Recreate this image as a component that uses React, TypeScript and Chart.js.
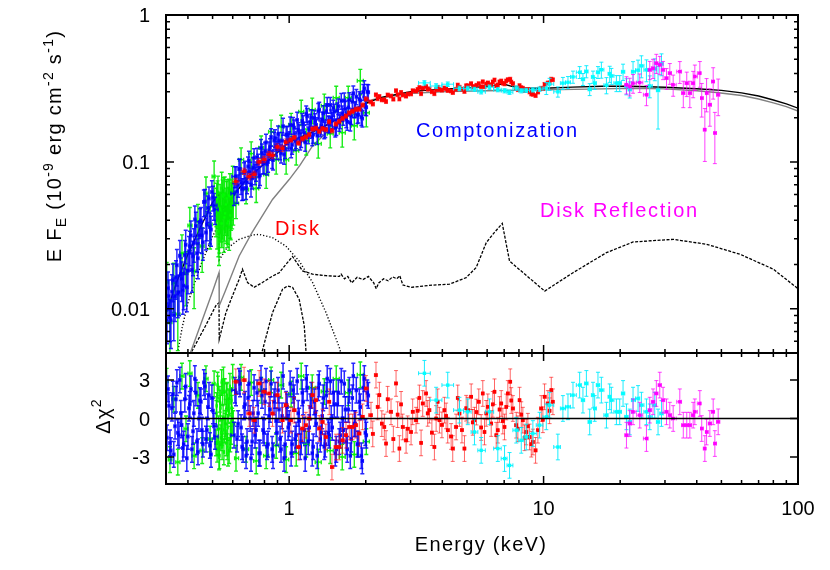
import React, { useEffect, useRef } from "react";
import { Chart, registerables } from "chart.js";

Chart.register(...registerables);

const FONT = '"Liberation Sans", Arial, Helvetica, sans-serif';

// ---------------- axis ranges and ticks ----------------
const X_MIN = 0.328;
const X_MAX = 100;
const Y_MIN = 0.005;
const Y_MAX = 1;
const R_MIN = -5.1;
const R_MAX = 5.1;

const xMajorTicks = [1, 10, 100];
const xTickLabels = ["1", "10", "100"];
const xMinorTicks = [0.4, 0.5, 0.6, 0.7, 0.8, 0.9, 2, 3, 4, 5, 6, 7, 8, 9, 20, 30, 40, 50, 60, 70, 80, 90];
const yMajorTicks = [1, 0.1, 0.01];
const yTickLabels = ["1", "0.1", "0.01"];
const yMinorTicks = [0.006, 0.007, 0.008, 0.009, 0.02, 0.03, 0.04, 0.05, 0.06, 0.07, 0.08, 0.09, 0.2, 0.3, 0.4, 0.5, 0.6, 0.7, 0.8, 0.9];
const resTicks = [3, 0, -3];
const resTickLabels = ["3", "0", "-3"];

// ---------------- data: blue (two interleaved groups of bins) ----------------
const blueE = [
  0.331, 0.337, 0.343, 0.349, 0.356, 0.362, 0.369, 0.375, 0.382, 0.389, 0.396, 0.404, 0.411, 0.419, 0.426, 0.434, 0.442, 0.45, 0.458, 0.467, 0.475, 0.484, 0.493, 0.502, 0.511,
  0.607, 0.618, 0.63, 0.641, 0.653, 0.665, 0.677, 0.689, 0.702, 0.715, 0.728, 0.741, 0.755, 0.768, 0.782, 0.797, 0.811, 0.826, 0.841, 0.857,
  0.872, 0.888, 0.904, 0.921, 0.938, 0.955, 0.973, 0.991, 1.009, 1.027, 1.046, 1.065, 1.085, 1.105, 1.125, 1.146, 1.167, 1.188, 1.21, 1.232,
  1.254, 1.277, 1.301, 1.325, 1.349, 1.374, 1.399, 1.424, 1.45, 1.477, 1.504, 1.532, 1.56, 1.588, 1.617, 1.647, 1.677, 1.708, 1.739, 1.771,
  1.803, 1.836, 1.87, 1.904, 1.939, 1.974, 2.01, 2.047,
];
const blueF = [
  0.00837, 0.01221, 0.00837, 0.01565, 0.0122, 0.0198, 0.01298, 0.0172, 0.01339, 0.02314, 0.01403, 0.0246, 0.0316, 0.0228, 0.0406, 0.02387, 0.0316, 0.04, 0.02837, 0.0538, 0.0375, 0.0564, 0.0347, 0.0573, 0.0475,
  0.0609, 0.0797, 0.0694, 0.0894, 0.0657, 0.0846, 0.0665, 0.0931, 0.0856, 0.0775, 0.1069, 0.0867, 0.0976, 0.0811, 0.1155, 0.0981, 0.1353, 0.0999, 0.1256, 0.1052,
  0.1399, 0.1278, 0.1544, 0.1206, 0.1393, 0.1123, 0.1537, 0.1382, 0.178, 0.1306, 0.1707, 0.1419, 0.1639, 0.1384, 0.1895, 0.1576, 0.2128, 0.153, 0.1872, 0.148,
  0.199, 0.178, 0.2213, 0.1691, 0.1937, 0.1649, 0.221, 0.1822, 0.2441, 0.1922, 0.2203, 0.1733, 0.2395, 0.1922, 0.2141, 0.2619, 0.1946, 0.2344, 0.1851, 0.257,
  0.2265, 0.2779, 0.2098, 0.2615, 0.1977, 0.3161, 0.2352, 0.298,
];
const blueErr = [
  0.0026, 0.0035, 0.003, 0.0045, 0.004, 0.0055, 0.004, 0.005, 0.0042, 0.006, 0.0045, 0.0065, 0.008, 0.006, 0.0095, 0.006, 0.0075, 0.009, 0.007, 0.011, 0.0085, 0.011, 0.008, 0.011, 0.01,
  0.0104, 0.013, 0.012, 0.015, 0.011, 0.014, 0.011, 0.015, 0.014, 0.012, 0.016, 0.013, 0.015, 0.012, 0.017, 0.015, 0.019, 0.015, 0.018, 0.015,
  0.019, 0.018, 0.021, 0.017, 0.019, 0.016, 0.021, 0.019, 0.024, 0.018, 0.022, 0.019, 0.021, 0.018, 0.024, 0.02, 0.027, 0.02, 0.024, 0.019,
  0.025, 0.022, 0.028, 0.021, 0.024, 0.021, 0.027, 0.023, 0.03, 0.024, 0.027, 0.022, 0.029, 0.024, 0.026, 0.032, 0.024, 0.028, 0.023, 0.031,
  0.027, 0.033, 0.026, 0.031, 0.025, 0.04, 0.029, 0.037,
];
const blueRes = [
  -1.5, 1.0, -2.5, 1.9, -0.6, 2.8, -1.3, 0.4, -2.3, 1.5, -3.1, 0.8, 2.3, -1.0, 3.1, -1.8, 0.0, 1.3, -2.0, 2.5, -0.9, 1.8, -2.8, 0.6, -1.4,
  -1.3, 2.0, -0.4, 2.7, -2.2, 0.9, -2.9, 1.6, 0.0, -1.8, 2.4, -0.9, 0.4, -2.7, 1.8, -1.1, 2.9, -2.0, 0.7, -2.4,
  1.3, -0.2, 2.2, -1.6, 0.2, -3.1, 1.1, -0.7, 2.7, -2.0, 1.6, -1.3, 0.4, -2.2, 2.0, -0.9, 3.1, -1.8, 0.9, -2.7,
  1.3, -0.4, 2.4, -1.6, 0.2, -2.2, 1.8, -1.1, 2.9, -0.7, 1.1, -2.4, 2.0, -1.3, 0.0, 2.7, -1.8, 0.7, -2.9, 1.6,
  -0.4, 2.2, -2.0, 0.9, -3.3, 3.1, -1.3, 1.8,
];

const blue2E = [
  0.334, 0.34, 0.346, 0.352, 0.359, 0.365, 0.372, 0.378, 0.385, 0.392, 0.4, 0.407, 0.415, 0.422, 0.43, 0.438, 0.446, 0.454, 0.462, 0.471, 0.479, 0.488, 0.497, 0.506,
  0.612, 0.624, 0.635, 0.647, 0.659, 0.671, 0.683, 0.695, 0.708, 0.721, 0.734, 0.748, 0.761, 0.775, 0.789, 0.804, 0.818, 0.833, 0.849, 0.864,
  0.88, 0.896, 0.912, 0.929, 0.946, 0.964, 0.982, 1.0, 1.018, 1.036, 1.055, 1.075, 1.095, 1.115, 1.135, 1.156, 1.177, 1.199, 1.221, 1.243,
  1.265, 1.289, 1.313, 1.337, 1.361, 1.386, 1.411, 1.437, 1.463, 1.49, 1.518, 1.546, 1.574, 1.602, 1.632, 1.662, 1.692, 1.723, 1.755, 1.787,
  1.819, 1.853, 1.887, 1.921, 1.956, 1.992, 2.028,
];
const blue2F = [
  0.01381, 0.00877, 0.01308, 0.00905, 0.0164, 0.0127, 0.02296, 0.01602, 0.01436, 0.02729, 0.01817, 0.02665, 0.01845, 0.02793, 0.03663, 0.02204, 0.03905, 0.0316, 0.05337, 0.03312, 0.04862, 0.03606, 0.06241, 0.0505,
  0.0796, 0.0632, 0.0893, 0.072, 0.0658, 0.087, 0.0728, 0.102, 0.0697, 0.0917, 0.083, 0.1076, 0.0795, 0.1243, 0.0976, 0.1189, 0.0964, 0.1195, 0.1478, 0.103,
  0.1457, 0.121, 0.1397, 0.1144, 0.175, 0.1223, 0.1527, 0.1417, 0.1235, 0.1774, 0.1384, 0.1928, 0.1577, 0.1441, 0.1825, 0.136, 0.2047, 0.1667, 0.2008, 0.1537,
  0.1883, 0.1511, 0.2265, 0.1755, 0.2141, 0.1686, 0.2441, 0.1805, 0.2005, 0.2333, 0.1699, 0.224, 0.1848, 0.2603, 0.2027, 0.2294, 0.1869, 0.2636, 0.2049, 0.2931,
  0.2283, 0.2082, 0.2677, 0.2021, 0.2992, 0.237, 0.2997,
];
const blue2Err = [
  0.004, 0.0028, 0.004, 0.003, 0.0048, 0.004, 0.0062, 0.0048, 0.0045, 0.007, 0.0055, 0.007, 0.0055, 0.0072, 0.0088, 0.006, 0.009, 0.0078, 0.011, 0.008, 0.01, 0.0085, 0.012, 0.0105,
  0.013, 0.011, 0.015, 0.012, 0.011, 0.014, 0.012, 0.016, 0.012, 0.015, 0.013, 0.016, 0.013, 0.018, 0.015, 0.017, 0.015, 0.017, 0.02, 0.015,
  0.02, 0.017, 0.019, 0.016, 0.023, 0.017, 0.021, 0.019, 0.017, 0.023, 0.019, 0.025, 0.021, 0.019, 0.024, 0.018, 0.026, 0.022, 0.026, 0.02,
  0.024, 0.02, 0.028, 0.023, 0.027, 0.022, 0.03, 0.023, 0.025, 0.029, 0.022, 0.028, 0.023, 0.032, 0.025, 0.028, 0.023, 0.032, 0.025, 0.036,
  0.028, 0.026, 0.033, 0.025, 0.037, 0.029, 0.037,
];
const blue2Res = [
  2.3, -1.9, 0.8, -2.8, 1.5, -1.1, 3.0, -0.5, -2.0, 2.5, -1.4, 1.1, -2.4, 0.4, 2.0, -2.6, 1.4, -0.9, 2.8, -1.6, 0.9, -2.1, 1.6, -0.6,
  2.2, -1.6, 2.9, -0.7, -2.4, 1.1, -1.8, 2.7, -3.1, 0.4, -1.3, 2.0, -2.7, 3.1, -0.9, 1.3, -2.2, 0.2, 2.7, -2.9,
  1.8, -1.1, 0.7, -2.4, 3.3, -2.0, 0.9, -0.4, -2.7, 2.2, -1.6, 2.9, -0.2, -1.8, 1.3, -3.1, 2.4, -0.7, 1.8, -2.2,
  0.4, -2.9, 2.7, -1.1, 1.6, -2.0, 3.1, -1.3, 0.0, 2.0, -2.7, 1.1, -1.8, 2.9, -0.9, 0.7, -2.4, 2.2, -1.6, 3.3,
  -0.4, -2.0, 1.3, -2.9, 2.4, -1.1, 2.0,
];

// ---------------- data: green ----------------
const greenE = [
  0.33, 0.34, 0.352, 0.365, 0.379, 0.393, 0.407, 0.423, 0.438, 0.455, 0.471, 0.489, 0.507,
  0.516, 0.519, 0.523, 0.527, 0.53, 0.534, 0.537, 0.541, 0.545, 0.548, 0.552, 0.556, 0.56, 0.564, 0.568, 0.571, 0.575, 0.579, 0.583, 0.587, 0.591, 0.595, 0.6, 0.603,
  0.618, 0.647, 0.677, 0.709, 0.742, 0.776, 0.812, 0.849, 0.889, 0.93, 0.973, 1.018, 1.066, 1.115, 1.167, 1.232, 1.301, 1.374, 1.45, 1.531, 1.617, 1.707, 1.803, 1.904, 2.01,
];
const greenF = [
  0.01517, 0.00811, 0.01493, 0.00919, 0.02387, 0.01747, 0.0369, 0.01803, 0.0394, 0.0267, 0.0609, 0.0375, 0.0795,
  0.0439, 0.0555, 0.0573, 0.0336, 0.0297, 0.0482, 0.0468, 0.0381, 0.0381, 0.0582, 0.06, 0.0419, 0.0446, 0.0513, 0.0564, 0.0381, 0.0394, 0.0591, 0.0582, 0.0432, 0.0482, 0.0591, 0.0723, 0.0521,
  0.0521, 0.1036, 0.0649, 0.1139, 0.0659, 0.125, 0.082, 0.1606, 0.1036, 0.1736, 0.1036, 0.1791, 0.1193, 0.2195, 0.1395, 0.2265, 0.1331, 0.2411, 0.1556, 0.2732, 0.1581, 0.2732, 0.1763, 0.3564, 0.2161,
];
const greenErr = [
  0.0055, 0.0035, 0.0055, 0.004, 0.008, 0.007, 0.012, 0.008, 0.012, 0.009, 0.018, 0.012, 0.022,
  0.013, 0.016, 0.017, 0.011, 0.01, 0.014, 0.014, 0.012, 0.012, 0.017, 0.018, 0.013, 0.013, 0.015, 0.017, 0.012, 0.012, 0.017, 0.017, 0.013, 0.014, 0.017, 0.021, 0.015,
  0.011, 0.021, 0.013, 0.023, 0.013, 0.025, 0.016, 0.032, 0.021, 0.034, 0.021, 0.035, 0.024, 0.043, 0.028, 0.045, 0.027, 0.048, 0.031, 0.054, 0.032, 0.054, 0.035, 0.07, 0.043,
];
const greenRes = [
  2.9, -3.2, 1.5, -3.4, 3.3, -0.8, 3.5, -2.9, 1.8, -2.5, 3.1, -1.6, 2.7,
  -1.9, 1.0, 2.6, -1.8, -3.0, 1.5, 0.8, -1.1, -2.2, 2.0, 3.0, -0.9, -0.6, 0.5, 1.7, -2.2, -2.7, 1.3, 1.2, -1.6, -1.0, 0.8, 3.2, -0.4,
  -3.1, 3.2, -2.4, 2.8, -3.3, 2.2, -2.9, 3.0, -2.1, 2.6, -3.2, 1.9, -2.7, 3.3, -2.0, 2.4, -3.4, 2.1, -2.5, 3.1, -3.0, 2.0, -2.8, 3.4, -1.8,
];
const green2E = [0.5175, 0.521, 0.525, 0.5285, 0.532, 0.5355, 0.539, 0.543, 0.5465, 0.55, 0.554, 0.558, 0.562, 0.566, 0.5695, 0.573, 0.577, 0.581, 0.585, 0.589, 0.593, 0.597];
const green2F = [0.0512, 0.0365, 0.062, 0.0452, 0.034, 0.0541, 0.0405, 0.066, 0.0428, 0.0495, 0.0352, 0.061, 0.047, 0.0398, 0.0585, 0.0445, 0.052, 0.036, 0.064, 0.0415, 0.056, 0.049];
const green2Err = [0.015, 0.011, 0.018, 0.013, 0.01, 0.016, 0.012, 0.019, 0.013, 0.015, 0.011, 0.018, 0.014, 0.012, 0.017, 0.013, 0.015, 0.011, 0.019, 0.012, 0.016, 0.014];
const green2Res = [0.4, -2.4, 2.3, -0.8, -2.9, 1.2, -1.5, 2.8, -1.1, 0.1, -2.6, 2.1, -0.4, -1.9, 1.8, -0.7, 0.6, -2.5, 2.5, -1.3, 1.4, -0.2];

// ---------------- data: red ----------------
const redE = [
  0.617, 0.665, 0.696, 0.728, 0.762, 0.797, 0.834, 0.86, 0.899, 0.941, 0.97,
  1.016, 1.046, 1.088, 1.128, 1.163, 1.199, 1.235, 1.274, 1.313, 1.352, 1.394, 1.437, 1.473, 1.527, 1.574, 1.621, 1.672, 1.723, 1.775, 1.83, 1.887, 1.944, 2.004,
  2.097, 2.131, 2.194, 2.227, 2.262, 2.313, 2.366, 2.403, 2.438, 2.514,
  2.567, 2.631, 2.669, 2.711, 2.753, 2.793, 2.881, 2.923, 3.014, 3.058,
  3.153, 3.199, 3.25, 3.3, 3.349, 3.453, 3.504, 3.558, 3.639, 3.723,
  3.781, 3.836, 3.896, 3.985, 4.076, 4.139, 4.2, 4.331, 4.395, 4.532,
  4.598, 4.67, 4.777, 4.887, 4.963, 5.035, 5.193, 5.269, 5.35, 5.448,
  5.563, 5.685, 5.768, 5.858, 5.949, 6.036, 6.225, 6.316, 6.414, 6.514,
  6.609, 6.711, 6.816, 6.916, 7.023, 7.131, 7.235, 7.395, 7.462, 7.572,
  7.809, 7.923, 8.045, 8.17, 8.29, 8.418, 8.549, 8.675, 8.809, 8.946,
  9.077, 9.302, 9.497, 9.793, 9.936, 10.09, 10.4, 10.56, 10.72, 10.88,
];
const redF = [
  0.0736, 0.0863, 0.0795, 0.0823, 0.1, 0.1039, 0.1124, 0.1107, 0.1264, 0.1237, 0.1363,
  0.141, 0.1464, 0.1343, 0.1437, 0.1478, 0.1532, 0.1673, 0.1694, 0.1614, 0.1683, 0.1659, 0.1875, 0.1629, 0.1811, 0.1889, 0.1977, 0.2053, 0.2155, 0.2213, 0.2283, 0.2289, 0.2438, 0.2677,
  0.2558, 0.2476, 0.2863, 0.269, 0.2788, 0.2644, 0.2648, 0.2575, 0.2858, 0.281,
  0.2673, 0.3054, 0.2867, 0.268, 0.2973, 0.2853, 0.2801, 0.2894, 0.29, 0.3054,
  0.3034, 0.3117, 0.3209, 0.2912, 0.3175, 0.3255, 0.3122, 0.3146, 0.3002, 0.2912,
  0.3107, 0.3224, 0.3107, 0.3078, 0.3188, 0.3146, 0.3063, 0.3034, 0.2964, 0.3122,
  0.3338, 0.3229, 0.3131, 0.3016, 0.3301, 0.3301, 0.3411, 0.3239, 0.3258, 0.3328,
  0.3411, 0.3248, 0.3514, 0.3245, 0.339, 0.3454, 0.3359, 0.3509, 0.3614, 0.3296,
  0.3343, 0.3509, 0.3559, 0.3433, 0.3396, 0.3559, 0.3631, 0.366, 0.3498, 0.3416,
  0.3185, 0.3102, 0.3307, 0.3205, 0.3174, 0.3059, 0.3102, 0.3113, 0.2992, 0.29,
  0.2885, 0.2828, 0.2986, 0.3174, 0.3155, 0.3374, 0.3449, 0.3449, 0.366, 0.3625,
];
const redErr = [
  0.0037, 0.0043, 0.004, 0.0041, 0.005, 0.0052, 0.0056, 0.0055, 0.0063, 0.0062, 0.0068,
  0.0049, 0.0051, 0.0047, 0.005, 0.0052, 0.0054, 0.0059, 0.0059, 0.0056, 0.0059, 0.0058, 0.0066, 0.0057, 0.0063, 0.0066, 0.0069, 0.0072, 0.0075, 0.0077, 0.008, 0.008, 0.0085, 0.0094,
  0.008, 0.0078, 0.0088, 0.0082, 0.0085, 0.0081, 0.0081, 0.0079, 0.0087, 0.0086,
  0.0082, 0.0092, 0.0087, 0.0082, 0.009, 0.0087, 0.0085, 0.0088, 0.0088, 0.0092,
  0.0091, 0.0094, 0.0096, 0.0088, 0.0095, 0.0098, 0.0094, 0.0095, 0.009, 0.0088,
  0.0094, 0.0097, 0.0094, 0.0093, 0.0096, 0.0095, 0.0092, 0.0091, 0.0089, 0.0094,
  0.01, 0.0097, 0.0094, 0.0091, 0.0099, 0.0099, 0.0102, 0.0097, 0.0098, 0.01,
  0.0102, 0.0097, 0.0105, 0.0097, 0.0102, 0.0104, 0.0101, 0.0105, 0.0108, 0.0099,
  0.01, 0.0105, 0.0107, 0.0103, 0.0102, 0.0107, 0.0109, 0.011, 0.0105, 0.0102,
  0.0096, 0.0093, 0.0099, 0.0096, 0.0095, 0.0092, 0.0093, 0.0093, 0.009, 0.0087,
  0.0087, 0.0085, 0.009, 0.0095, 0.0095, 0.0101, 0.0103, 0.0103, 0.011, 0.0109,
];
const redRes = [
  2.86, 2.99, 0.39, -0.13, 2.73, 2.08, 1.95, 0.39, 1.82, -0.13, 1.04,
  -0.13, 0.65, -2.22, -0.78, -0.52, 0.0, 1.82, 1.43, -0.78, -0.27, -1.44, 1.3, -3.78, -2.22, -2.22, -1.7, -1.3, -0.66, -0.66, -0.52, -1.17, 0.13, 2.34,
  0.26, -1.2, 3.38, 0.9, 1.82, -0.4, -0.66, -1.95, 1.5, 0.52,
  -1.6, 2.73, 0.3, -2.34, 1.1, -0.66, -1.7, -0.8, -1.05, 0.52,
  -0.13, 0.6, 1.6, -1.9, 1.17, 1.95, 0.4, 0.65, -1.1, -2.22,
  0.0, 1.3, -0.13, -0.5, 0.65, 0.2, -0.91, -1.4, -2.34, -0.66,
  1.6, 0.39, -0.9, -2.34, 0.8, 0.65, 1.69, -0.3, -0.13, 0.5,
  1.3, -0.7, 1.95, -1.05, 0.4, 0.91, -0.39, 1.1, 2.08, -1.3,
  -0.91, 0.7, 1.17, -0.2, -0.66, 0.9, 1.95, 2.86, 1.4, 0.78,
  -0.52, -0.8, 1.43, 0.3, -0.13, -1.5, -1.05, -0.6, -1.44, -2.0,
  -1.83, -2.48, -0.91, 0.78, -0.1, 1.69, 1.17, 0.6, 2.21, 1.3,
];

// ---------------- data: cyan ----------------
const cyanE = [
  3.401, 3.781, 4.2, 4.67, 5.035, 5.35, 5.685, 6.13, 6.609, 7.023,
  7.348, 7.809, 8.17, 8.549, 9.077, 9.645, 10.25, 10.56, 11.38, 11.91,
  12.47, 13.05, 13.86, 14.28, 14.73, 15.18, 15.64, 15.88, 16.36, 16.87,
  17.66, 18.19, 18.47, 19.33, 19.92, 20.53, 21.17, 21.81, 22.47, 23.51,
  24.24, 25.37, 26.14, 27.35, 28.18, 29.07,
];
const cyanF = [
  0.345, 0.3286, 0.338, 0.317, 0.3165, 0.312, 0.3, 0.3224, 0.31, 0.305,
  0.298, 0.318, 0.305, 0.307, 0.309, 0.313, 0.3174, 0.3385, 0.3, 0.3438,
  0.3481, 0.3789, 0.4075, 0.3654, 0.4126, 0.3117, 0.3789, 0.3438, 0.4075, 0.4243,
  0.3327, 0.3977, 0.3849, 0.3438, 0.3438, 0.4106, 0.3271, 0.3112, 0.4113, 0.421,
  0.4505, 0.423, 0.3291, 0.4297, 0.3073, 0.4648,
];
const cyanErr = [
  0.012, 0.012, 0.012, 0.011, 0.011, 0.01, 0.01, 0.011, 0.01, 0.01,
  0.01, 0.011, 0.01, 0.01, 0.01, 0.011, 0.03, 0.032, 0.024, 0.032,
  0.033, 0.036, 0.038, 0.034, 0.039, 0.029, 0.036, 0.032, 0.038, 0.053,
  0.042, 0.05, 0.048, 0.043, 0.043, 0.052, 0.041, 0.039, 0.07, 0.072,
  0.077, 0.072, 0.056, 0.073, 0.14, 0.079,
];
const cyanRes = [
  3.52, 1.43, 2.6, 0.65, 0.52, -1.05, -2.48, 0.52, -2.34, -3.12,
  -3.65, -0.91, -1.7, -1.44, -1.17, -0.52, 0.13, 1.04, -2.22, 0.78,
  0.91, 1.82, 2.6, 1.43, 2.73, -0.27, 1.82, 0.78, 2.6, 2.21,
  0.26, 1.69, 1.43, 0.52, 0.52, 1.95, 0.13, -0.27, 1.43, 1.56,
  1.04, 0.52, 0.13, 1.04, -0.27, 0.39,
];

// ---------------- data: magenta ----------------
const magentaE = [
  21.17, 21.81, 22.47, 23.88, 25.37, 26.14, 26.93, 27.75, 28.62, 29.49,
  30.42, 31.34, 32.31, 34.31, 35.41, 36.54, 37.57, 38.72, 39.31, 41.13,
  41.84, 43.04, 43.72, 45.03, 46.41, 47.12, 48.56,
];
const magentaF = [
  0.3348, 0.326, 0.3433, 0.3466, 0.2863, 0.423, 0.4342, 0.4699, 0.4576, 0.423,
  0.3718, 0.4021, 0.3348, 0.4119, 0.294, 0.3433, 0.294, 0.3433, 0.3812, 0.4021,
  0.2719, 0.1657, 0.294, 0.2449, 0.3525, 0.1573, 0.2863,
];
const magentaErr = [
  0.045, 0.045, 0.05, 0.05, 0.045, 0.06, 0.065, 0.07, 0.065, 0.06,
  0.06, 0.065, 0.055, 0.07, 0.06, 0.065, 0.06, 0.07, 0.075, 0.08,
  0.07, 0.065, 0.075, 0.07, 0.085, 0.06, 0.08,
];
const magentaRes = [
  -1.3, -0.39, 0.52, 0.26, -1.56, 0.65, 1.3, 1.95, 2.6, 1.43,
  0.52, 0.26, 0.0, 1.3, -0.52, -0.52, -0.52, 0.26, 0.52, 1.17,
  -0.78, -2.34, -1.05, -0.39, 0.52, -1.95, -0.26,
];
const RES_ERR = 1; // residuals are in units of sigma

// ---------------- model curves ----------------
const totalE = [0.33, 0.36, 0.4, 0.45, 0.5, 0.53, 0.531, 0.58, 0.62, 0.7, 0.8, 0.9, 1.0, 1.1, 1.2, 1.4, 1.6, 1.8, 2.0, 2.3, 2.7, 3.0, 3.5, 4.0, 5.0, 6.0, 6.5, 6.9, 7.5, 8.5, 10, 13, 17, 22, 30, 40, 50, 60, 70, 80, 90, 100];
const totalF = [0.0095, 0.015, 0.0235, 0.0365, 0.053, 0.06, 0.046, 0.052, 0.063, 0.08, 0.097, 0.116, 0.137, 0.147, 0.156, 0.178, 0.202, 0.228, 0.25, 0.275, 0.29, 0.3, 0.308, 0.313, 0.319, 0.326, 0.333, 0.34, 0.327, 0.318, 0.317, 0.323, 0.327, 0.327, 0.322, 0.315, 0.307, 0.295, 0.281, 0.264, 0.248, 0.232];

const comptE = [0.4, 0.45, 0.5, 0.53, 0.531, 0.56, 0.6, 0.636, 0.715, 0.86, 1.0, 1.1, 1.232, 1.4, 1.574, 1.8, 2.125, 2.5, 3.05, 4.15, 6.0, 10.3, 15, 22.4, 30, 40, 47.8, 60, 70, 80, 90, 100];
const comptF = [0.0045, 0.0079, 0.0131, 0.0176, 0.0105, 0.0131, 0.0177, 0.0229, 0.0331, 0.0555, 0.0758, 0.0942, 0.1276, 0.158, 0.185, 0.22, 0.265, 0.28, 0.293, 0.301, 0.305, 0.31, 0.313, 0.317, 0.314, 0.305, 0.297, 0.283, 0.268, 0.252, 0.238, 0.222];

const diskE = [0.36, 0.38, 0.4, 0.45, 0.5, 0.515, 0.53, 0.531, 0.564, 0.636, 0.717, 0.762, 0.86, 0.971, 1.095, 1.236, 1.395, 1.574, 1.65];
const diskF = [0.0045, 0.0075, 0.011, 0.02, 0.031, 0.0345, 0.037, 0.0215, 0.0254, 0.0297, 0.0318, 0.0321, 0.0305, 0.0267, 0.0211, 0.0151, 0.00944, 0.00546, 0.004];

const reflE = [0.4, 0.416, 0.47, 0.515, 0.53, 0.531, 0.564, 0.598, 0.636, 0.655, 0.686, 0.728, 0.785, 0.86, 0.914, 0.97, 1.031, 1.129, 1.236, 1.395, 1.574, 1.6, 1.65, 1.7, 1.76, 1.85, 1.95, 2.05, 2.15, 2.2, 2.25, 2.35, 2.45, 2.55, 2.65, 2.72, 2.8, 3.015, 3.667, 4.267, 4.963, 5.435, 5.952, 6.4, 6.88, 7.35, 10.1, 13.05, 17.66, 22.5, 32.3, 43.7, 59.2, 80.0, 100];
const reflF = [0.0045, 0.0052, 0.0077, 0.0105, 0.011, 0.0062, 0.0094, 0.0122, 0.0159, 0.0186, 0.0151, 0.014, 0.0151, 0.0167, 0.0176, 0.02, 0.0227, 0.0181, 0.0172, 0.0168, 0.0166, 0.0172, 0.016, 0.0166, 0.015, 0.0164, 0.0158, 0.0166, 0.015, 0.0137, 0.015, 0.016, 0.0155, 0.0165, 0.016, 0.0168, 0.0145, 0.014, 0.0145, 0.0147, 0.0163, 0.0191, 0.0282, 0.033, 0.0381, 0.0211, 0.0132, 0.0176, 0.0241, 0.0285, 0.0297, 0.0275, 0.0235, 0.0186, 0.0137];

const lineE = [0.76, 0.785, 0.86, 0.942, 0.985, 1.031, 1.095, 1.146, 1.164, 1.18];
const lineF = [0.0045, 0.0052, 0.0094, 0.0136, 0.0143, 0.014, 0.0116, 0.0077, 0.0052, 0.0042];

// ---------------- annotations (anchored in data coordinates) ----------------
const annotations = [
  { text: "Disk", e: 0.88, f: 0.0318, color: "#ff0000" },
  { text: "Comptonization", e: 3.15, f: 0.1477, color: "#0000ff" },
  { text: "Disk Reflection", e: 9.68, f: 0.0422, color: "#ff00ff" },
];

// ---------------- layout ----------------
const W = 830;
const H = 570;
const LEFT = 166;
const RIGHT = 798;
const TOP = 15;
const MID = 353;
const BOTTOM = 484;
const TICK_MAJOR = 8;
const TICK_MINOR = 4;
const SPACING = 1.3;
const ANNOT_SPACING = 1.7;

type Seg = { t: string; size: number; dy: number };
const yTitleSegs: Seg[] = [
  { t: "E F", size: 20, dy: 0 },
  { t: "E", size: 14, dy: 5 },
  { t: " (10", size: 20, dy: 0 },
  { t: "-9", size: 14, dy: -8 },
  { t: " erg cm", size: 20, dy: 0 },
  { t: "-2", size: 14, dy: -8 },
  { t: " s", size: 20, dy: 0 },
  { t: "-1", size: 14, dy: -8 },
  { t: ")", size: 20, dy: 0 },
];
const resTitleSegs: Seg[] = [
  { t: "\u0394\u03c7", size: 20, dy: 0 },
  { t: "2", size: 14, dy: -9 },
];

function xBounds(E: number[], maxDex: number) {
  const lo: number[] = [];
  const hi: number[] = [];
  for (let i = 0; i < E.length; i++) {
    const l = Math.log10(E[i]);
    const dl = i > 0 ? (l - Math.log10(E[i - 1])) / 2 : NaN;
    const dr = i < E.length - 1 ? (Math.log10(E[i + 1]) - l) / 2 : NaN;
    let a = isNaN(dl) ? dr : dl;
    let b = isNaN(dr) ? dl : dr;
    a = Math.min(a, maxDex);
    b = Math.min(b, maxDex);
    lo.push(Math.pow(10, l - a));
    hi.push(Math.pow(10, l + b));
  }
  return { lo, hi };
}

function pointSet(
  E: number[], Y: number[], err: number[] | null, color: string, barColor: string,
  radius: number, order: number, maxDex: number, cap: number, barWidth: number
) {
  const { lo, hi } = xBounds(E, maxDex);
  return {
    type: "scatter",
    data: E.map((e, i) => ({ x: e, y: Y[i] })),
    errY: err,
    errConst: RES_ERR,
    xLo: lo,
    xHi: hi,
    barColor,
    barWidth,
    cap,
    showLine: false,
    pointStyle: "rect",
    pointRadius: radius,
    pointHoverRadius: radius,
    pointBackgroundColor: color,
    pointBorderWidth: 0,
    borderColor: color,
    backgroundColor: color,
    order,
  };
}

function lineSet(E: number[], Y: number[], color: string, dash: number[], width: number, order: number) {
  return {
    type: "scatter",
    data: E.map((e, i) => ({ x: e, y: Y[i] })),
    showLine: true,
    pointRadius: 0,
    pointHoverRadius: 0,
    borderColor: color,
    backgroundColor: color,
    borderWidth: width,
    borderDash: dash,
    tension: 0,
    fill: false,
    order,
  };
}

const errorBars = {
  id: "errorBars",
  beforeDatasetDraw(chart: any, args: any) {
    const ds = chart.data.datasets[args.index];
    if (!ds.xLo) return;
    const xs = chart.scales.x;
    const ys = chart.scales.y;
    const a = chart.chartArea;
    const ctx: CanvasRenderingContext2D = chart.ctx;
    const cap = ds.cap;
    const isLog = ys.type === "logarithmic";
    ctx.save();
    ctx.beginPath();
    ctx.rect(a.left, a.top, a.right - a.left, a.bottom - a.top);
    ctx.clip();
    ctx.strokeStyle = ds.barColor;
    ctx.lineWidth = ds.barWidth;
    ctx.beginPath();
    ds.data.forEach((p: any, i: number) => {
      const e = ds.errY ? ds.errY[i] : ds.errConst;
      const px = xs.getPixelForValue(p.x);
      const py = ys.getPixelForValue(p.y);
      const lowV = p.y - e;
      const yLo = isLog && lowV <= 0 ? a.bottom + 40 : ys.getPixelForValue(lowV);
      const yHi = ys.getPixelForValue(p.y + e);
      const xL = xs.getPixelForValue(ds.xLo[i]);
      const xR = xs.getPixelForValue(ds.xHi[i]);
      ctx.moveTo(px, yHi);
      ctx.lineTo(px, yLo);
      ctx.moveTo(px - cap, yHi);
      ctx.lineTo(px + cap, yHi);
      ctx.moveTo(px - cap, yLo);
      ctx.lineTo(px + cap, yLo);
      ctx.moveTo(xL, py);
      ctx.lineTo(xR, py);
      ctx.moveTo(xL, py - cap);
      ctx.lineTo(xL, py + cap);
      ctx.moveTo(xR, py - cap);
      ctx.lineTo(xR, py + cap);
    });
    ctx.stroke();
    ctx.restore();
  },
};

function drawXTicks(ctx: CanvasRenderingContext2D, xs: any, yEdge: number, dir: number) {
  ctx.beginPath();
  for (const v of xMajorTicks) {
    const p = xs.getPixelForValue(v);
    ctx.moveTo(p, yEdge);
    ctx.lineTo(p, yEdge + dir * TICK_MAJOR);
  }
  for (const v of xMinorTicks) {
    const p = xs.getPixelForValue(v);
    ctx.moveTo(p, yEdge);
    ctx.lineTo(p, yEdge + dir * TICK_MINOR);
  }
  ctx.stroke();
}

function drawYTicks(ctx: CanvasRenderingContext2D, ys: any, xEdge: number, dir: number, major: number[], minor: number[]) {
  ctx.beginPath();
  for (const v of major) {
    const p = ys.getPixelForValue(v);
    ctx.moveTo(xEdge, p);
    ctx.lineTo(xEdge + dir * TICK_MAJOR, p);
  }
  for (const v of minor) {
    const p = ys.getPixelForValue(v);
    ctx.moveTo(xEdge, p);
    ctx.lineTo(xEdge + dir * TICK_MINOR, p);
  }
  ctx.stroke();
}

function drawRich(ctx: CanvasRenderingContext2D, segs: Seg[], cx: number, cy: number) {
  ctx.save();
  ctx.translate(cx, cy);
  ctx.rotate(-Math.PI / 2);
  (ctx as any).letterSpacing = `${SPACING}px`;
  ctx.textAlign = "left";
  ctx.textBaseline = "alphabetic";
  ctx.fillStyle = "#000";
  const widths = segs.map((s) => {
    ctx.font = `${s.size}px ${FONT}`;
    return ctx.measureText(s.t).width;
  });
  const total = widths.reduce((a, b) => a + b, 0);
  let x = -total / 2;
  segs.forEach((s, i) => {
    ctx.font = `${s.size}px ${FONT}`;
    ctx.fillText(s.t, x, s.dy);
    x += widths[i];
  });
  ctx.restore();
}

const topDecor = {
  id: "topDecor",
  afterDraw(chart: any) {
    const ctx: CanvasRenderingContext2D = chart.ctx;
    const a = chart.chartArea;
    const xs = chart.scales.x;
    const ys = chart.scales.y;
    ctx.save();
    ctx.strokeStyle = "#000";
    ctx.lineWidth = 1.5;
    drawXTicks(ctx, xs, a.top, 1);
    drawXTicks(ctx, xs, a.bottom, -1);
    drawYTicks(ctx, ys, a.left, 1, yMajorTicks, yMinorTicks);
    drawYTicks(ctx, ys, a.right, -1, yMajorTicks, yMinorTicks);
    ctx.lineWidth = 2;
    ctx.strokeRect(a.left, a.top, a.right - a.left, a.bottom - a.top);

    ctx.fillStyle = "#000";
    ctx.font = `20px ${FONT}`;
    ctx.textAlign = "right";
    ctx.textBaseline = "alphabetic";
    yMajorTicks.forEach((v, i) => {
      ctx.fillText(yTickLabels[i], a.left - 16, ys.getPixelForValue(v) + 7);
    });

    drawRich(ctx, yTitleSegs, 61, 146);

    (ctx as any).letterSpacing = `${ANNOT_SPACING}px`;
    ctx.textAlign = "left";
    ctx.font = `20px ${FONT}`;
    annotations.forEach((an) => {
      ctx.fillStyle = an.color;
      ctx.fillText(an.text, xs.getPixelForValue(an.e), ys.getPixelForValue(an.f));
    });
    ctx.restore();
  },
};

const bottomDecor = {
  id: "bottomDecor",
  afterDraw(chart: any) {
    const ctx: CanvasRenderingContext2D = chart.ctx;
    const a = chart.chartArea;
    const xs = chart.scales.x;
    const ys = chart.scales.y;
    ctx.save();
    ctx.strokeStyle = "#000";
    ctx.lineWidth = 1.5;
    drawXTicks(ctx, xs, a.top, 1);
    drawXTicks(ctx, xs, a.bottom, -1);
    drawYTicks(ctx, ys, a.left, 1, resTicks, []);
    drawYTicks(ctx, ys, a.right, -1, resTicks, []);
    ctx.lineWidth = 2;
    ctx.strokeRect(a.left, a.top, a.right - a.left, a.bottom - a.top);

    ctx.fillStyle = "#000";
    ctx.font = `20px ${FONT}`;
    ctx.textAlign = "right";
    ctx.textBaseline = "alphabetic";
    resTicks.forEach((v, i) => {
      ctx.fillText(resTickLabels[i], a.left - 16, ys.getPixelForValue(v) + 7);
    });
    ctx.textAlign = "center";
    xMajorTicks.forEach((v, i) => {
      ctx.fillText(xTickLabels[i], xs.getPixelForValue(v), a.bottom + 31);
    });
    (ctx as any).letterSpacing = `${SPACING}px`;
    ctx.fillText("Energy (keV)", (a.left + a.right) / 2 - 1, a.bottom + 67);
    ctx.restore();

    drawRich(ctx, resTitleSegs, 110, 416);
  },
};

function baseOptions(padTop: number, padBottom: number, yScale: any) {
  return {
    animation: false,
    responsive: false,
    maintainAspectRatio: false,
    devicePixelRatio: 1,
    events: [],
    layout: { padding: { left: LEFT, right: W - RIGHT, top: padTop, bottom: padBottom } },
    plugins: { legend: { display: false }, tooltip: { enabled: false } },
    scales: {
      x: { type: "logarithmic", min: X_MIN, max: X_MAX, bounds: "data", display: false },
      y: yScale,
    },
  };
}

const GREEN = ["#00ff00", "rgba(0,235,0,0.9)"];
const BLUE = ["#0000ff", "rgba(0,0,255,0.85)"];
const RED = ["#ff0000", "rgba(255,0,0,0.6)"];
const CYAN = ["#00ffff", "rgba(0,235,255,0.9)"];
const MAGENTA = ["#ff00ff", "rgba(255,0,255,0.75)"];

function topConfig(): any {
  return {
    type: "scatter",
    data: {
      datasets: [
        lineSet(totalE, totalF, "#000000", [], 1.4, 20),
        lineSet(comptE, comptF, "#808080", [], 1.4, 21),
        lineSet(diskE, diskF, "#000000", [1.2, 2], 1.4, 22),
        lineSet(reflE, reflF, "#000000", [3, 1.5], 1.3, 23),
        lineSet(lineE, lineF, "#000000", [3, 1.5], 1.3, 24),
        pointSet(greenE, greenF, greenErr, GREEN[0], GREEN[1], 1.5, 7, 0.012, 2, 1.4),
        pointSet(green2E, green2F, green2Err, GREEN[0], GREEN[1], 1.5, 7, 0.012, 2, 1.4),
        pointSet(blueE, blueF, blueErr, BLUE[0], BLUE[1], 1.6, 5, 0.012, 2, 1.5),
        pointSet(blue2E, blue2F, blue2Err, BLUE[0], BLUE[1], 1.6, 5, 0.012, 2, 1.5),
        pointSet(redE, redF, redErr, RED[0], RED[1], 2.6, 4, 0.012, 2, 1),
        pointSet(cyanE, cyanF, cyanErr, CYAN[0], CYAN[1], 2.4, 3, 0.03, 2, 1),
        pointSet(magentaE, magentaF, magentaErr, MAGENTA[0], MAGENTA[1], 2.4, 2, 0.012, 2, 1),
      ],
    },
    options: baseOptions(TOP, H - MID, { type: "logarithmic", min: Y_MIN, max: Y_MAX, bounds: "data", display: false }),
    plugins: [errorBars, topDecor],
  };
}

function bottomConfig(): any {
  return {
    type: "scatter",
    data: {
      datasets: [
        pointSet(greenE, greenRes, null, GREEN[0], GREEN[1], 1.5, 7, 0.012, 2, 1.4),
        pointSet(green2E, green2Res, null, GREEN[0], GREEN[1], 1.5, 7, 0.012, 2, 1.4),
        pointSet(blueE, blueRes, null, BLUE[0], BLUE[1], 1.6, 5, 0.012, 2, 1.5),
        pointSet(blue2E, blue2Res, null, BLUE[0], BLUE[1], 1.6, 5, 0.012, 2, 1.5),
        pointSet(redE, redRes, null, RED[0], RED[1], 2.6, 4, 0.012, 2, 1),
        pointSet(cyanE, cyanRes, null, CYAN[0], CYAN[1], 2.4, 3, 0.03, 2, 1),
        pointSet(magentaE, magentaRes, null, MAGENTA[0], MAGENTA[1], 2.4, 2, 0.012, 2, 1),
        lineSet([X_MIN, X_MAX], [0, 0], "#000000", [], 1.5, -1),
      ],
    },
    options: baseOptions(MID, H - BOTTOM, { type: "linear", min: R_MIN, max: R_MAX, bounds: "data", display: false }),
    plugins: [errorBars, bottomDecor],
  };
}

export default function App() {
  const topRef = useRef<HTMLCanvasElement>(null);
  const botRef = useRef<HTMLCanvasElement>(null);
  useEffect(() => {
    const c1 = new Chart(topRef.current as HTMLCanvasElement, topConfig());
    const c2 = new Chart(botRef.current as HTMLCanvasElement, bottomConfig());
    return () => {
      c1.destroy();
      c2.destroy();
    };
  }, []);
  return (
    <div style={{ position: "fixed", left: 0, top: 0, width: W, height: H, background: "#ffffff" }}>
      <canvas ref={topRef} width={W} height={H} style={{ position: "absolute", left: 0, top: 0 }} />
      <canvas ref={botRef} width={W} height={H} style={{ position: "absolute", left: 0, top: 0 }} />
    </div>
  );
}
